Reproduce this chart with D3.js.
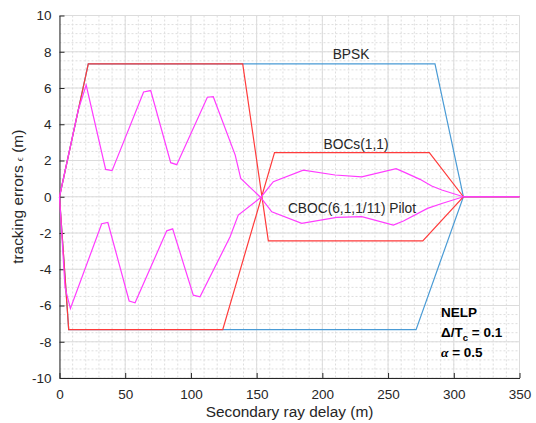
<!DOCTYPE html>
<html>
  <head>
    <meta charset="utf-8">
    <style>
    body {
      font-family: "Liberation Sans", Arial, sans-serif;
      margin: 0;
      background: #fff;
    }
    </style>
  </head>
  <body>
    <script src="https://d3js.org/d3.v7.min.js"></script>
    <script>
    var bpskUpX = [0, 21.9, 285.7, 307.3, 350];
    var bpskUpY = [0, 7.33, 7.33, 0, 0];
    var bpskLoX = [0, 7, 271.3, 307.3, 350];
    var bpskLoY = [0, -7.33, -7.33, 0, 0];

    var bocAX = [0, 21.9, 139.4, 158.9, 276.4, 307.3, 350];
    var bocAY = [0, 7.33, 7.33, -2.43, -2.43, 0, 0];
    var bocBX = [0, 7, 124.2, 163.6, 281.4, 307.3, 350];
    var bocBY = [0, -7.33, -7.33, 2.43, 2.43, 0, 0];

    var cbocAX = [0, 14.3, 20.3, 35.1, 40.0, 64, 69.4, 84.6, 89.2, 112.5, 117, 133.7, 137.9, 153.1, 161.5, 184.3, 210.9, 230, 254, 261.7, 280, 290.9, 307.3, 350];
    var cbocAY = [0, 4.8, 6.16, 1.51, 1.44, 5.78, 5.86, 1.88, 1.77, 5.49, 5.52, 2.30, 1.01, -0.04, -0.83, -1.47, -1.14, -1.10, -1.56, -1.34, -0.64, -0.37, 0, 0];
    var cbocBX = [0, 4.2, 8.3, 32.1, 36.8, 53, 57.5, 81.6, 86.1, 101.8, 106.9, 129.8, 136, 153.1, 162.7, 185.5, 209.7, 230, 256.1, 263, 274.3, 283.2, 290.9, 307.3, 350];
    var cbocBY = [0, -5.0, -6.17, -1.49, -1.42, -5.75, -5.85, -1.88, -1.77, -5.43, -5.52, -2.21, -1.01, -0.04, 0.83, 1.47, 1.2, 1.10, 1.55, 1.33, 0.96, 0.59, 0.37, 0, 0];

    var xTicks = [0, 50, 100, 150, 200, 250, 300, 350];
    var yTicks = [-10, -8, -6, -4, -2, 0, 2, 4, 6, 8, 10];

    var width = 536, height = 423;
    var pLeft = 59.5, pRight = 519.5, pTop = 15.5, pBottom = 378;

    var svg = d3.select("body").append("svg")
        .attr("width", width)
        .attr("height", height);

    var x = d3.scaleLinear().domain([0, 350]).range([pLeft, pRight]);
    var y = d3.scaleLinear().domain([-10, 10]).range([pBottom, pTop]);

    // grid, minor then major
    var grid = svg.append("g");
    grid.selectAll(".xminor").data(d3.range(0, 351, 10))
      .enter().append("line")
        .attr("x1", function(d) { return x(d); }).attr("x2", function(d) { return x(d); })
        .attr("y1", pTop).attr("y2", pBottom)
        .attr("stroke", "#dedede").attr("stroke-dasharray", "2,2");
    grid.selectAll(".yminor").data(d3.range(-10, 10.01, 0.5))
      .enter().append("line")
        .attr("x1", pLeft).attr("x2", pRight)
        .attr("y1", function(d) { return y(d); }).attr("y2", function(d) { return y(d); })
        .attr("stroke", "#dedede").attr("stroke-dasharray", "2,2");
    grid.selectAll(".xmajor").data(xTicks)
      .enter().append("line")
        .attr("x1", function(d) { return x(d); }).attr("x2", function(d) { return x(d); })
        .attr("y1", pTop).attr("y2", pBottom)
        .attr("stroke", "#dcdcdc");
    grid.selectAll(".ymajor").data(yTicks)
      .enter().append("line")
        .attr("x1", pLeft).attr("x2", pRight)
        .attr("y1", function(d) { return y(d); }).attr("y2", function(d) { return y(d); })
        .attr("stroke", "#dcdcdc");

    // axes, ticks point inwards
    var fmt = function(d) { return String(d); };
    var xAxis = svg.append("g")
        .attr("transform", "translate(0," + pBottom + ")")
        .call(d3.axisBottom(x).tickValues(xTicks).tickFormat(fmt).tickSizeInner(-5).tickSizeOuter(0).tickPadding(11));
    var yAxis = svg.append("g")
        .attr("transform", "translate(" + pLeft + ",0)")
        .call(d3.axisLeft(y).tickValues(yTicks).tickFormat(fmt).tickSizeInner(-5).tickSizeOuter(0).tickPadding(8));

    [xAxis, yAxis].forEach(function(a) {
      a.select(".domain").attr("stroke", "#262626");
      a.selectAll(".tick line").attr("stroke", "#262626");
      a.selectAll(".tick text")
          .attr("fill", "#262626")
          .style("font-size", "13.5px")
          .style("font-family", "'Liberation Sans', Arial, sans-serif");
    });

    function series(xs, ys) {
      return xs.map(function(d, i) { return [d, ys[i]]; });
    }

    var line = d3.line()
        .x(function(d) { return x(d[0]); })
        .y(function(d) { return y(d[1]); });

    var curves = [
      [series(bpskUpX, bpskUpY), "#4a9bd5"],
      [series(bpskLoX, bpskLoY), "#4a9bd5"],
      [series(bocAX, bocAY), "#ff3b3b"],
      [series(bocBX, bocBY), "#ff3b3b"],
      [series(cbocAX, cbocAY), "#ff3cff"],
      [series(cbocBX, cbocBY), "#ff3cff"]
    ];

    svg.append("g").selectAll("path")
        .data(curves)
      .enter().append("path")
        .attr("d", function(d) { return line(d[0]); })
        .attr("fill", "none")
        .attr("stroke", function(d) { return d[1]; })
        .attr("stroke-width", 1.2);

    // curve labels
    var labels = svg.append("g")
        .style("font-size", "13.75px")
        .attr("fill", "#262626")
        .attr("text-anchor", "middle");
    labels.append("text").attr("x", 351).attr("y", 59).text("BPSK");
    labels.append("text").attr("x", 356).attr("y", 148.5).text("BOCs(1,1)");
    labels.append("text").attr("x", 352).attr("y", 213).text("CBOC(6,1,1/11) Pilot");

    // parameter box
    var info = svg.append("g")
        .style("font-size", "13.5px")
        .style("font-weight", "bold")
        .attr("fill", "#000");
    info.append("text").attr("x", 441).attr("y", 317).text("NELP");
    var t2 = info.append("text").attr("x", 441).attr("y", 337);
    t2.append("tspan").text("\u0394/T");
    t2.append("tspan").attr("dy", 4).style("font-size", "9.5px").text("c");
    t2.append("tspan").attr("dy", -4).text(" = 0.1");
    var t3 = info.append("text").attr("x", 441).attr("y", 357);
    t3.append("tspan").style("font-family", "'Liberation Serif', serif").style("font-style", "italic").text("\u03b1");
    t3.append("tspan").text(" = 0.5");

    // axis titles
    svg.append("text")
        .attr("x", (pLeft + pRight) / 2).attr("y", 417)
        .attr("text-anchor", "middle")
        .attr("fill", "#262626")
        .style("font-size", "15.4px")
        .text("Secondary ray delay (m)");

    var yl = svg.append("text")
        .attr("transform", "translate(23," + ((pTop + pBottom) / 2) + ") rotate(-90)")
        .attr("text-anchor", "middle")
        .attr("fill", "#262626")
        .style("font-size", "15.4px");
    yl.append("tspan").text("tracking errors ");
    yl.append("tspan").style("font-size", "10px").style("font-family", "'Liberation Serif', serif").text("\u03f5");
    yl.append("tspan").text(" (m)");
    </script>
  </body>
</html>
